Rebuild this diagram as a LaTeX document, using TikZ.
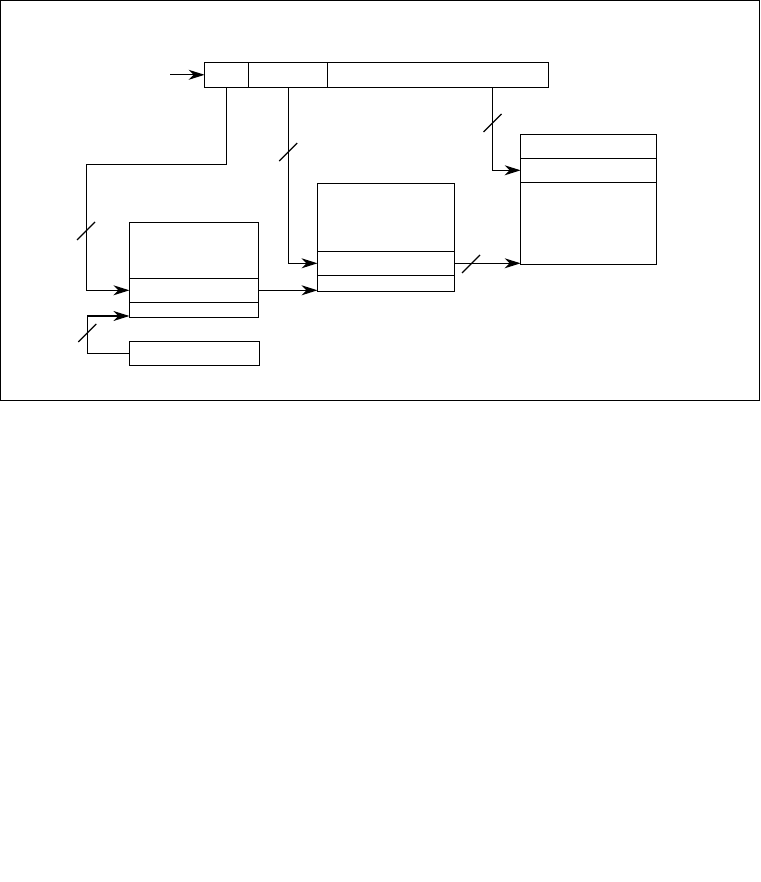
\documentclass[tikz,border=0pt]{standalone}
\usetikzlibrary{calc, arrows.meta, positioning}

% short slash across a bus line
\newcommand{\busmark}[1]{\draw (#1) ++(-9,9) -- ++(18,-18);}

\begin{document}
\begin{tikzpicture}[
    x=1pt, y=-1pt,
    line width=1.2pt,
    every node/.style={
            rectangle,
            draw,
            outer sep=0pt,
            inner sep=0pt
        },
    arrow/.style={-{Stealth[length=16pt, width=10pt, inset=5pt]}},
    cell/.style={minimum height=#1},
    regcell/.style={minimum height=25pt, minimum width=#1}
    ]

    \useasboundingbox (0,0) rectangle (760,882);
    \draw[line width=1pt] (0.5,0.5) rectangle (759.5,400.5);

    % --- Register ---
    \node (reg_a) [regcell=44pt, anchor=north west] at (204.6,62.3) {};
    \node (reg_b) [regcell=79pt, right=0pt of reg_a] {};
    \node (reg_c) [regcell=221pt, right=0pt of reg_b] {};

    % --- Left block ---
    \node (a_top) [cell=56pt, minimum width=129pt, anchor=north west] at (129.4,222.3) {};
    \node (a_mid) [cell=24pt, minimum width=129pt, below=0pt of a_top] {};
    \node (a_low) [cell=15pt, minimum width=129pt, below=0pt of a_mid] {};
    \node (b_box) [cell=24pt, minimum width=130pt, anchor=north west] at (129.4,341.3) {};

    % --- Middle block ---
    \node (c_top) [cell=68pt, minimum width=137pt, anchor=north west] at (317.5,183.3) {};
    \node (c_mid) [cell=24pt, minimum width=137pt, below=0pt of c_top] {};
    \node (c_low) [cell=16pt, minimum width=137pt, below=0pt of c_mid] {};

    % --- Right block ---
    \node (d_top) [cell=24pt, minimum width=136pt, anchor=north west] at (520.6,134.3) {};
    \node (d_mid) [cell=24pt, minimum width=136pt, below=0pt of d_top] {};
    \node (d_low) [cell=82pt, minimum width=136pt, below=0pt of d_mid] {};

    % --- Coordinates ---
    \coordinate (entry) at (170,74.8);
    \coordinate (bend_a) at (86.3,164.3);
    \coordinate (tap_c) at ($(reg_c.south west)+(165,0)$);
    \coordinate (b_turn) at (87.3,316);

    % --- Arrows ---
    \draw[arrow] (entry) -- (reg_a.west);
    \draw[arrow] (reg_a.south) |- (bend_a) |- (a_mid.west);
    \draw[arrow] (reg_b.south) |- (c_mid.west);
    \draw[arrow] (tap_c) |- (d_mid.west);
    \draw[arrow] (a_mid.east) -- (a_mid.east -| c_low.west);
    \draw[arrow] (c_mid.east) -- (c_mid.east -| d_low.west);
    \draw[arrow] (b_box.west) -| (b_turn) -- (b_turn -| a_low.west);

    % --- Bus widths ---
    \busmark{86,231}
    \busmark{288.2,152}
    \busmark{492.5,123}
    \busmark{471,264}
    \busmark{87.3,333}

\end{tikzpicture}
\end{document}
